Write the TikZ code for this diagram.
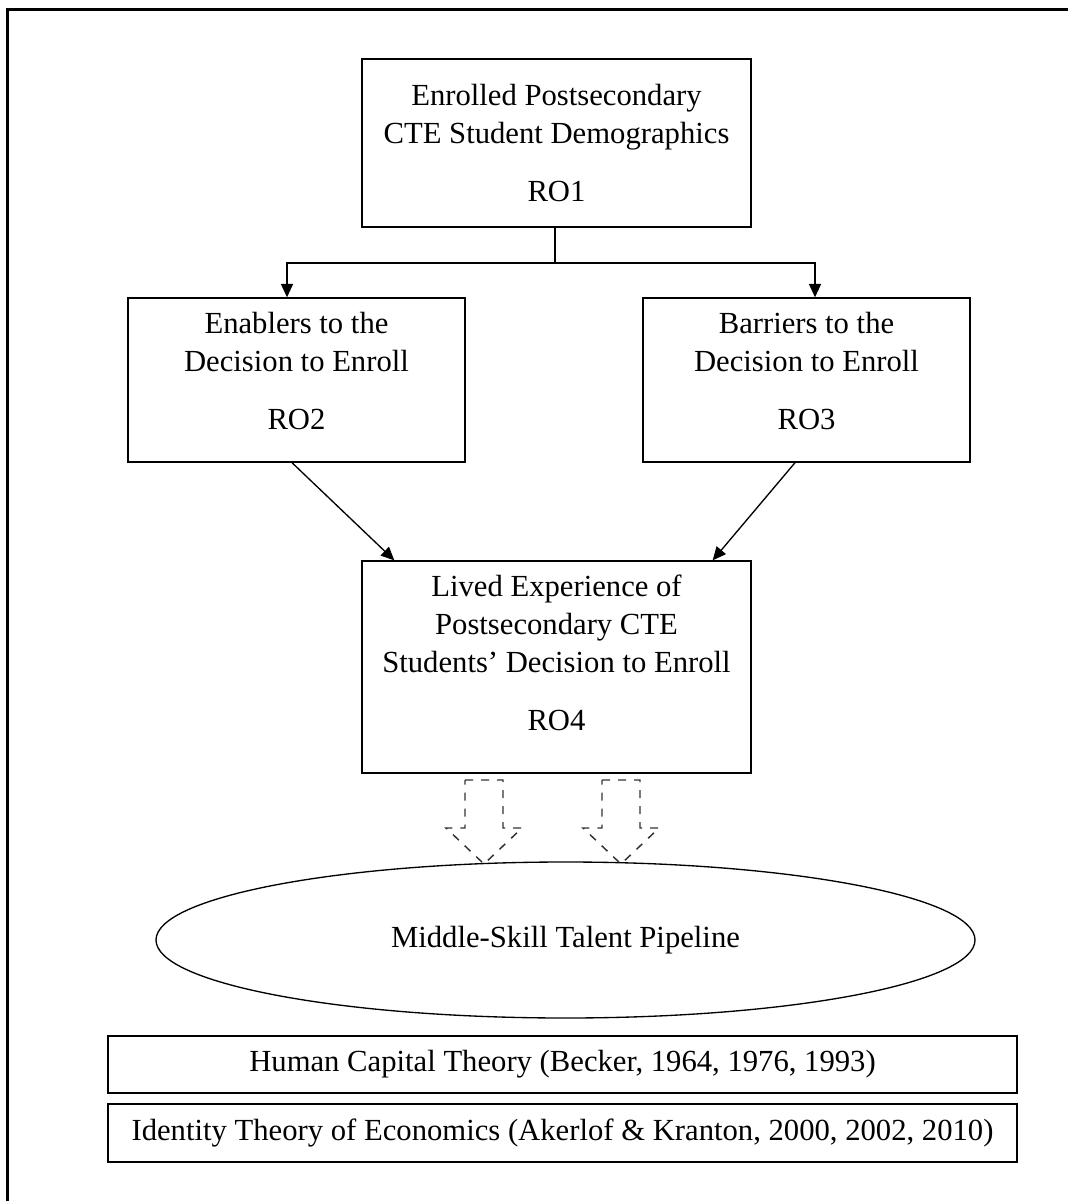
\documentclass[tikz,border=0pt]{standalone}
\usepackage{fontspec}
\setmainfont{Liberation Serif}
\usepackage{tikz}
\usetikzlibrary{positioning,shapes,arrows.meta}

\begin{document}
\begin{tikzpicture}[x=0.75pt,y=-0.75pt,
        every node/.style = {font=\fontsize{23}{28.5}\selectfont},
        box/.style = {draw, line width=1pt, align=center, inner sep=0pt},
        arr/.style = {line width=1pt, -{Triangle[length=10pt,width=9pt]}},
        blockarrow/.style = {draw=black!80, line width=1.1pt, dash pattern=on 6pt off 6pt}]
        \useasboundingbox (0,0) rectangle (1068,1201);
        % frame
        \draw[line width=2.2pt] (7.5,1201) |- (1068,9.5);
        \node[box, minimum width=291.75pt, minimum height=126pt] (ro1) at (556.5,143)
            {Enrolled Postsecondary\\CTE Student Demographics\\[15pt]RO1};
        \node[box, minimum width=252.75pt, minimum height=123pt, text depth=14pt] (ro2) at (296.5,380)
            {Enablers to the\\Decision to Enroll\\[15pt]RO2};
        \node[box, minimum width=245.25pt, minimum height=123pt, text depth=14pt] (ro3) at (806.5,380)
            {Barriers to the\\Decision to Enroll\\[15pt]RO3};
        \node[box, minimum width=291.75pt, minimum height=159pt, text depth=22pt] (ro4) at (556.5,667)
            {Lived Experience of\\Postsecondary CTE\\Students' Decision to Enroll\\[15pt]RO4};
        \node[box, ellipse, minimum width=614.25pt, minimum height=117pt] (pipe) at (565.5,940)
            {Middle-Skill Talent Pipeline};
        \node[box, minimum width=681.75pt, minimum height=42.75pt] (hct) at (562.5,1064.5)
            {Human Capital Theory (Becker, 1964, 1976, 1993)};
        \node[box, minimum width=681.75pt, minimum height=43.5pt] (ite) at (562.5,1133)
            {Identity Theory of Economics (Akerlof \& Kranton, 2000, 2002, 2010)};
        % connectors
        \coordinate (fork) at (555,263);
        \draw[line width=1pt] (ro1.south -| fork) -- (fork);
        \draw[arr] (fork) -| ([xshift=-7.125pt]ro2.north);
        \draw[arr] (fork) -| ([xshift=6.375pt]ro3.north);
        \draw[arr] ([xshift=-3.4pt]ro2.south) -- ([xshift=24.75pt]ro4.north west);
        \draw[arr] ([xshift=-8.6pt]ro3.south) -- ([xshift=-29.25pt]ro4.north east);
        % dashed block arrows
        \foreach \cx in {484,621} {
            \draw[blockarrow] (\cx-19,780) -- (\cx+19,780) -- (\cx+19,828) -- (\cx+38,828)
                -- (\cx,864) -- (\cx-38,828) -- (\cx-19,828) -- cycle;
        }
    \end{tikzpicture}
\end{document}
